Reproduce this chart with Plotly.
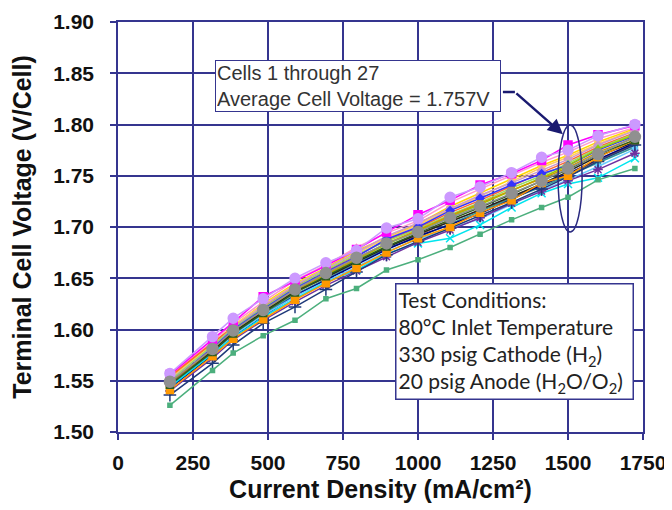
import plotly.graph_objects as go

# Current density points (mA/cm2)
current_density = [173, 315, 384, 484, 590, 693, 795, 895, 1000, 1107, 1207, 1312, 1412, 1500, 1600, 1723]

# Cell voltages (V/cell)
v_light_pink = [1.555, 1.588, 1.606, 1.627, 1.648, 1.663, 1.680, 1.694, 1.706, 1.724, 1.737, 1.750, 1.763, 1.773, 1.786, 1.797]
v_yellow = [1.553, 1.586, 1.603, 1.625, 1.645, 1.660, 1.677, 1.690, 1.703, 1.720, 1.733, 1.747, 1.760, 1.770, 1.783, 1.796]
v_light_orange = [1.552, 1.585, 1.604, 1.624, 1.644, 1.659, 1.674, 1.689, 1.702, 1.717, 1.730, 1.744, 1.758, 1.768, 1.781, 1.795]
v_red_orange = [1.554, 1.587, 1.602, 1.622, 1.642, 1.657, 1.672, 1.687, 1.699, 1.714, 1.726, 1.740, 1.753, 1.764, 1.778, 1.792]
v_lilac = [1.551, 1.583, 1.602, 1.623, 1.643, 1.659, 1.675, 1.691, 1.704, 1.718, 1.731, 1.743, 1.755, 1.766, 1.780, 1.794]
v_light_green = [1.550, 1.584, 1.601, 1.621, 1.641, 1.658, 1.673, 1.686, 1.698, 1.712, 1.724, 1.738, 1.750, 1.762, 1.777, 1.791]
v_blue = [1.548, 1.582, 1.600, 1.620, 1.640, 1.656, 1.671, 1.688, 1.700, 1.716, 1.728, 1.741, 1.752, 1.760, 1.775, 1.789]
v_olive = [1.547, 1.580, 1.598, 1.618, 1.638, 1.653, 1.668, 1.683, 1.696, 1.710, 1.722, 1.735, 1.748, 1.760, 1.776, 1.790]
v_gold = [1.548, 1.581, 1.598, 1.619, 1.638, 1.654, 1.669, 1.684, 1.697, 1.711, 1.723, 1.736, 1.747, 1.758, 1.773, 1.787]
v_brown = [1.547, 1.579, 1.597, 1.617, 1.636, 1.651, 1.665, 1.681, 1.692, 1.706, 1.716, 1.729, 1.741, 1.751, 1.765, 1.781]
v_teal = [1.545, 1.577, 1.595, 1.615, 1.634, 1.649, 1.664, 1.679, 1.690, 1.703, 1.715, 1.728, 1.739, 1.750, 1.762, 1.778]
v_black = [1.545, 1.579, 1.597, 1.617, 1.637, 1.651, 1.666, 1.680, 1.693, 1.705, 1.717, 1.730, 1.742, 1.754, 1.769, 1.783]
v_navy_tri = [1.543, 1.575, 1.593, 1.613, 1.633, 1.648, 1.663, 1.678, 1.691, 1.702, 1.713, 1.727, 1.741, 1.752, 1.766, 1.782]
v_light_blue = [1.546, 1.577, 1.594, 1.614, 1.632, 1.647, 1.661, 1.676, 1.688, 1.698, 1.708, 1.722, 1.736, 1.746, 1.759, 1.776]
v_cyan = [1.544, 1.576, 1.592, 1.612, 1.630, 1.646, 1.658, 1.674, 1.684, 1.689, 1.702, 1.719, 1.733, 1.742, 1.748, 1.767]
v_purple = [1.540, 1.572, 1.590, 1.609, 1.627, 1.643, 1.657, 1.671, 1.685, 1.697, 1.709, 1.723, 1.735, 1.745, 1.756, 1.772]
v_navy_plus = [1.536, 1.567, 1.585, 1.606, 1.622, 1.639, 1.656, 1.673, 1.686, 1.699, 1.711, 1.724, 1.737, 1.749, 1.764, 1.780]
v_sea_green = [1.526, 1.560, 1.577, 1.594, 1.609, 1.630, 1.640, 1.658, 1.668, 1.680, 1.693, 1.707, 1.719, 1.729, 1.746, 1.757]
v_orange = [1.541, 1.574, 1.591, 1.610, 1.629, 1.645, 1.660, 1.675, 1.689, 1.700, 1.714, 1.726, 1.743, 1.750, 1.768, 1.785]
v_dark_green = [1.546, 1.578, 1.596, 1.616, 1.636, 1.652, 1.667, 1.681, 1.694, 1.707, 1.719, 1.732, 1.745, 1.756, 1.771, 1.785]
v_magenta = [1.556, 1.590, 1.607, 1.632, 1.647, 1.662, 1.678, 1.695, 1.712, 1.726, 1.741, 1.752, 1.765, 1.780, 1.790, 1.799]
v_lavender = [1.557, 1.593, 1.611, 1.630, 1.650, 1.665, 1.677, 1.699, 1.708, 1.729, 1.739, 1.753, 1.768, 1.775, 1.789, 1.800]
v_average = [1.549, 1.581, 1.599, 1.619, 1.639, 1.655, 1.670, 1.684, 1.695, 1.709, 1.720, 1.733, 1.745, 1.757, 1.771, 1.788]

x_ticks = [0, 250, 500, 750, 1000, 1250, 1500, 1750]
y_ticks = [1.50, 1.55, 1.60, 1.65, 1.70, 1.75, 1.80, 1.85, 1.90]

# (values, colour, marker symbol, marker size)
series = [
    (v_light_pink, "#FF99CC", "triangle-up", 6),
    (v_yellow, "#FFD700", "triangle-up", 6),
    (v_light_orange, "#FFCC66", "square", 6),
    (v_red_orange, "#FF6633", "x-thin-open", 7),
    (v_lilac, "#CC99CC", "diamond", 6),
    (v_light_green, "#99DD66", "triangle-up", 6),
    (v_blue, "#3333FF", "diamond", 6),
    (v_olive, "#99CC00", "triangle-up", 6),
    (v_gold, "#CC9900", "square", 5),
    (v_brown, "#996633", "diamond", 5),
    (v_teal, "#339999", "square", 5),
    (v_black, "#222222", "diamond", 5),
    (v_navy_tri, "#000080", "triangle-up", 6),
    (v_light_blue, "#66CCFF", "circle", 5),
    (v_cyan, "#00E5EE", "x-thin-open", 8),
    (v_purple, "#7030A0", "asterisk-open", 8),
    (v_navy_plus, "#1F3A7A", "cross-thin-open", 9),
    (v_sea_green, "#4CAF7D", "square", 4),
    (v_orange, "#FF9900", "square", 7),
    (v_dark_green, "#2E5E1E", "square", 7),
    (v_magenta, "#FF00FF", "square", 8),
    (v_lavender, "#CC99FF", "circle", 10),
    (v_average, "#909090", "circle", 11),
]

fig = go.Figure()
for vals, color, sym, size in series:
    fig.add_trace(go.Scatter(
        x=current_density, y=vals, mode="lines+markers",
        line=dict(color=color, width=1.5),
        marker=dict(symbol=sym, size=size, color=color, line=dict(color=color, width=1.5)),
        showlegend=False, hoverinfo="skip",
    ))

navy = "#35358F"
fig.update_layout(
    width=672, height=510,
    margin=dict(l=110, r=37, t=14, b=86, autoexpand=False),
    paper_bgcolor="white", plot_bgcolor="white",
    font=dict(family="Liberation Sans, Arial, sans-serif", color="#111111"),
)
fig.update_xaxes(
    range=[0, 1750], tickvals=x_ticks, ticktext=[str(t) for t in x_ticks],
    showgrid=True, gridcolor=navy, gridwidth=1.5, zeroline=False,
    showline=True, linecolor=navy, linewidth=1.5, mirror=True,
    ticks="outside", ticklen=6, tickcolor=navy, tickwidth=1.5,
    tickfont=dict(size=21, family="Liberation Sans, Arial", color="#111111", weight="bold"),
    ticklabelstandoff=5, automargin=False,
    title=dict(text="<b>Current Density (mA/cm²)</b>", font=dict(size=25, color="#111111"), standoff=8),
)
fig.update_yaxes(
    range=[1.50, 1.90], tickvals=y_ticks, ticktext=[f"{t:.2f}" for t in y_ticks],
    showgrid=True, gridcolor=navy, gridwidth=1.5, zeroline=False,
    showline=True, linecolor=navy, linewidth=1.5, mirror=True,
    ticks="outside", ticklen=6, tickcolor=navy, tickwidth=1.5,
    tickfont=dict(size=21, family="Liberation Sans, Arial", color="#111111", weight="bold"),
    ticklabelstandoff=12, automargin=False,
    title=dict(text="<b>Terminal Cell Voltage (V/Cell)</b>", font=dict(size=25, color="#111111"), standoff=14),
)

# Callout box
fig.add_annotation(
    xref="x", yref="y", x=323, y=1.863, xanchor="left", yanchor="top",
    text="Cells 1 through 27<br>Average Cell Voltage = 1.757V",
    showarrow=False, align="left", width=282,
    font=dict(size=20, family="Liberation Sans, Arial", color="#333333"),
    bgcolor="white", bordercolor=navy, borderwidth=1, borderpad=1,
)
# Leader line and arrow
fig.add_shape(type="line", xref="x", yref="y", x0=1283, y0=1.8317, x1=1323, y1=1.8317,
              line=dict(color="#1A1A70", width=2.5))
fig.add_annotation(
    xref="x", yref="y", x=1483, y=1.7905, axref="x", ayref="y", ax=1323, ay=1.8317,
    text="", showarrow=True, arrowhead=2, arrowsize=1.2, arrowwidth=2.5, arrowcolor="#1A1A70",
)
# Ellipse around 1500 mA/cm2
fig.add_shape(type="circle", xref="x", yref="y", x0=1467, x1=1547, y0=1.695, y1=1.7995,
              line=dict(color="#2A2A80", width=1.5))

# Test conditions box
fig.add_annotation(
    xref="x", yref="y", x=923, y=1.645, xanchor="left", yanchor="top",
    text="Test Conditions:<br>80°C Inlet Temperature<br>330 psig Cathode (H<sub>2</sub>)<br>20 psig Anode (H<sub>2</sub>O/O<sub>2</sub>)",
    showarrow=False, align="left", width=232,
    font=dict(size=21, family="Lato, sans-serif", color="#222222"),
    bgcolor="white", bordercolor=navy, borderwidth=1.5, borderpad=2,
)

fig.write_html("out.html")
